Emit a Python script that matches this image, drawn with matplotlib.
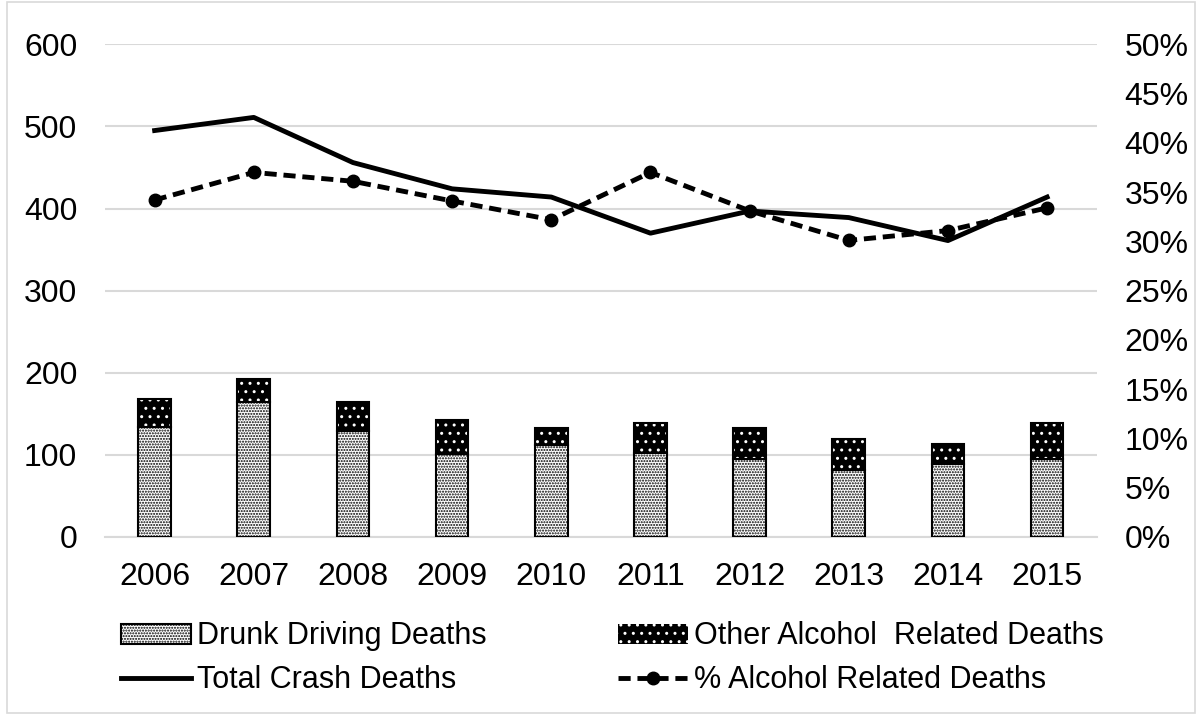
import numpy as np
import matplotlib
matplotlib.use("Agg")
import matplotlib.pyplot as plt
from matplotlib.ticker import PercentFormatter
from matplotlib.patches import Rectangle

plt.rcParams["font.family"] = ["Liberation Sans", "DejaVu Sans"]
plt.rcParams["hatch.linewidth"] = 1.0

years = ["2006", "2007", "2008", "2009", "2010", "2011", "2012", "2013", "2014", "2015"]
drunk = [134, 164, 129, 101, 112, 102, 95, 82, 89, 95]
other = [34, 28, 35, 41, 21, 37, 38, 37, 24, 44]
total = [495, 511, 456, 424, 414, 370, 397, 389, 361, 414]
pct = [0.342, 0.370, 0.361, 0.341, 0.322, 0.370, 0.331, 0.301, 0.311, 0.334]

fig = plt.figure(figsize=(12.02, 7.15), dpi=100)
ax = fig.add_axes([0.0874, 0.249, 0.825, 0.689])
ax2 = ax.twinx()

x = np.arange(len(years))
w = 0.33
grid = "#d9d9d9"
fs = 23
lfs = 22

b1 = ax.bar(x, drunk, w, facecolor="white", edgecolor="black", hatch="......",
            linewidth=1.5, label="Drunk Driving Deaths", zorder=3)
b2 = ax.bar(x, other, w, bottom=drunk, facecolor="black", edgecolor="white",
            hatch="..", linewidth=0, label="Other Alcohol  Related Deaths", zorder=3)
ax.bar(x, other, w, bottom=drunk, fill=False, edgecolor="black", linewidth=1.5, zorder=4)
l1, = ax.plot(x, total, color="black", lw=3.5, label="Total Crash Deaths", zorder=5)
l2, = ax2.plot(x, pct, color="black", lw=3.5, ls=(0, (2.5, 1.4)), marker="o", ms=9,
               label="% Alcohol Related Deaths", zorder=5)

ax.set_xlim(-0.5, len(years) - 0.5)
ax.set_ylim(0, 600)
ax.set_yticks(range(0, 601, 100))
ax2.set_ylim(0, 0.5)
ax2.set_yticks(np.arange(0, 0.51, 0.05))
ax2.yaxis.set_major_formatter(PercentFormatter(1.0, decimals=0))
ax.set_xticks(x)
ax.set_xticklabels(years)

ax.yaxis.grid(True, color=grid, lw=1.5, zorder=0)
ax.set_axisbelow(True)
for a in (ax, ax2):
    for s in a.spines.values():
        s.set_visible(False)
ax.spines["bottom"].set_visible(True)
ax.spines["bottom"].set_color(grid)
ax.spines["bottom"].set_linewidth(1.5)
ax.tick_params(axis="y", length=0, labelsize=fs, pad=20)
ax.tick_params(axis="x", length=0, labelsize=fs, pad=18)
ax2.tick_params(axis="y", length=0, labelsize=fs, pad=20)

fig.legend(handles=[b1, l1, b2, l2], loc="lower left", bbox_to_anchor=(0.085, 0.002),
           ncol=2, frameon=False, fontsize=lfs, handlelength=2.3, handletextpad=0.2,
           columnspacing=4.3, labelspacing=0.45, handleheight=0.65, borderpad=0.1)

fig.patches.append(Rectangle((0.006, 0.003), 0.988, 0.994, transform=fig.transFigure,
                             fill=False, edgecolor=grid, lw=1.2))

fig.savefig("out.png", dpi=100)
